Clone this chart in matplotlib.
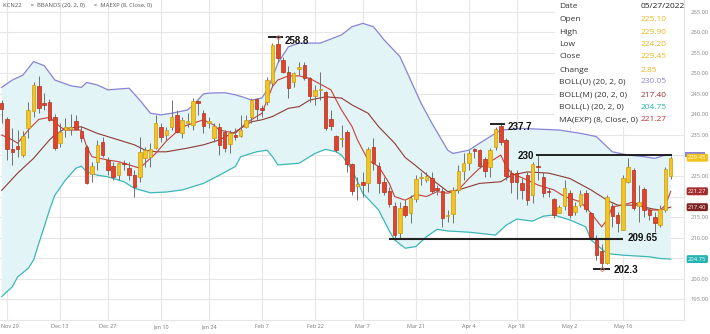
import numpy as np
import matplotlib.pyplot as plt
from matplotlib.patches import Rectangle
import matplotlib.transforms as mtransforms

plt.rcParams['font.family'] = ['Open Sans', 'DejaVu Sans']

# daily KCN22 candles, trading-day index -1 (Nov 26) .. 125 (May 27)
opens = [242.9, 238.8, 231.7, 232.3, 230.0, 236.6, 240.9, 246.9, 242.9, 243.1,
         239.5, 233.0, 236.2, 236.4, 238.5, 236.0, 232.0, 225.5, 228.5, 233.4,
         228.9, 227.4, 225.2, 228.1, 226.9, 225.2, 224.8, 229.3, 229.7, 231.8,
         237.0, 235.0, 236.9, 239.9, 235.4, 237.9, 237.4, 243.3, 240.4, 237.9,
         234.2, 237.0, 235.7, 232.8, 235.0, 234.8, 237.0, 239.5, 243.7, 241.5,
         243.1, 247.6, 257.2, 253.3, 250.4, 247.8, 251.1, 252.1, 248.8, 244.4,
         245.9, 245.5, 239.0, 234.8, 234.0, 235.8, 227.9, 222.6, 223.5, 223.2,
         232.0, 227.4, 223.6, 221.4, 217.7, 211.0, 217.8, 215.9, 219.3, 224.4,
         224.0, 224.6, 222.1, 221.4, 215.3, 215.7, 221.6, 226.2, 228.1, 231.4,
         231.3, 229.1, 227.3, 232.1, 237.2, 233.8, 225.8, 225.7, 223.2, 225.2,
         220.4, 227.5, 224.8, 221.3, 219.3, 216.0, 217.7, 220.8, 216.3, 217.9,
         220.9, 216.0, 209.8, 206.8, 203.9, 217.7, 215.5, 211.8, 223.6, 226.5,
         217.7, 221.8, 216.7, 215.1, 213.0, 216.7, 225.10]
highs = [243.5, 239.5, 236.7, 236.2, 236.0, 243.1, 247.8, 249.4, 245.2, 243.7,
         240.0, 237.9, 239.1, 240.1, 239.9, 237.2, 232.5, 228.5, 233.8, 234.6,
         229.7, 228.5, 228.5, 228.9, 228.5, 226.5, 234.6, 232.1, 233.0, 239.9,
         237.9, 237.0, 243.5, 241.1, 239.5, 240.3, 243.9, 243.5, 241.1, 239.5,
         237.9, 237.9, 236.2, 236.2, 236.6, 239.9, 239.9, 243.9, 243.9, 242.3,
         249.2, 257.4, 258.8, 254.1, 251.7, 250.4, 252.9, 252.9, 249.2, 247.2,
         250.4, 245.6, 241.1, 235.0, 237.4, 236.2, 228.1, 224.8, 226.0, 232.1,
         234.2, 228.5, 224.8, 222.4, 218.7, 218.7, 219.1, 220.4, 225.2, 226.0,
         226.0, 226.0, 222.8, 222.0, 216.7, 222.4, 227.7, 230.5, 231.3, 231.8,
         231.5, 229.7, 231.8, 237.0, 237.7, 234.2, 226.5, 226.5, 224.5, 226.0,
         228.5, 230.0, 226.0, 222.0, 219.6, 217.9, 224.0, 221.6, 218.7, 221.6,
         221.6, 216.3, 210.6, 208.5, 220.4, 218.5, 216.3, 225.2, 229.3, 226.9,
         222.8, 222.4, 217.5, 216.3, 217.9, 227.3, 229.90]
lows = [237.9, 228.9, 227.7, 229.7, 229.7, 234.2, 239.5, 240.3, 241.1, 238.3,
        231.4, 232.1, 234.6, 235.0, 236.2, 233.4, 223.0, 223.6, 226.5, 229.7,
        225.2, 224.0, 224.0, 226.5, 224.0, 220.0, 223.5, 227.3, 227.3, 231.5,
        233.4, 233.8, 236.2, 235.4, 234.2, 237.0, 236.2, 239.9, 235.4, 236.6,
        233.4, 230.1, 230.9, 230.5, 233.8, 234.6, 236.6, 237.9, 238.7, 239.5,
        242.3, 246.8, 252.9, 250.0, 243.9, 246.8, 249.5, 248.4, 243.0, 242.3,
        243.5, 236.2, 236.2, 230.9, 232.1, 226.0, 220.4, 219.1, 220.0, 221.2,
        226.5, 220.8, 220.4, 217.5, 209.65, 210.0, 215.1, 213.5, 218.7, 222.8,
        223.6, 220.8, 220.4, 212.6, 213.9, 213.5, 220.8, 224.0, 226.5, 229.3,
        226.9, 224.8, 224.8, 231.3, 232.5, 224.0, 220.8, 219.5, 219.5, 218.0,
        218.5, 224.0, 220.0, 220.0, 214.7, 215.9, 216.7, 214.7, 215.5, 217.5,
        216.3, 210.0, 204.5, 202.3, 203.5, 212.6, 211.4, 211.8, 223.2, 216.7,
        213.9, 215.1, 214.3, 211.4, 212.6, 216.3, 224.20]
closes = [241.3, 231.5, 230.9, 231.7, 234.8, 241.0, 247.2, 241.5, 242.4, 238.7,
          231.8, 235.8, 237.0, 237.0, 236.5, 234.2, 223.4, 227.4, 232.5, 230.1,
          226.5, 224.8, 228.1, 227.9, 225.2, 222.4, 230.9, 231.3, 231.7, 237.9,
          234.6, 236.2, 239.5, 235.8, 238.7, 238.5, 243.3, 242.7, 237.2, 238.5,
          237.2, 232.6, 231.9, 235.4, 234.4, 236.2, 238.7, 243.5, 241.3, 241.1,
          248.4, 256.9, 253.7, 250.4, 246.4, 250.0, 251.5, 249.0, 244.6, 246.0,
          246.3, 236.7, 237.2, 231.3, 234.3, 227.9, 221.4, 223.0, 222.8, 231.5,
          228.2, 223.2, 221.2, 218.2, 210.6, 217.1, 215.6, 219.6, 224.3, 224.7,
          225.0, 221.4, 221.6, 214.7, 215.6, 221.6, 226.2, 228.2, 230.5, 231.2,
          227.4, 226.2, 231.3, 236.4, 233.4, 225.0, 223.6, 223.6, 221.6, 219.1,
          227.9, 227.1, 220.8, 221.1, 215.5, 217.4, 222.0, 215.5, 217.7, 220.5,
          216.9, 210.2, 205.7, 203.7, 219.8, 215.2, 213.6, 224.6, 227.1, 217.1,
          218.7, 216.7, 215.5, 213.5, 216.9, 226.6, 229.45]

# Bollinger (20, 2) and EMA(8) lines, sampled by trading-day index
upper_idx = [-1, 1, 3, 5, 7, 9, 12, 14, 15, 17, 19, 23, 25, 27, 29, 31, 34, 35, 37, 38,
             41, 43, 45, 46, 48, 49, 50, 51, 53, 55, 59, 63, 65, 67, 69, 71, 74, 76, 78, 80,
             83, 84, 87, 89, 91, 93, 97, 104, 108, 111, 114, 117, 120, 122, 124, 125]
upper_val = [246.6, 248.4, 249.6, 252.9, 251.9, 248.4, 247.0, 246.6, 247.8, 247.2,
             246.0, 246.4, 243.5, 240.3, 239.9, 240.3, 241.1, 242.2, 245.0, 245.2,
             245.3, 244.8, 244.0, 243.5, 244.0, 246.0, 249.0, 252.5, 256.5, 257.4,
             257.4, 259.4, 261.4, 262.2, 261.4, 258.2, 254.1, 248.4, 242.7, 237.9,
             231.3, 230.5, 231.3, 233.0, 234.6, 236.2, 236.6, 236.2, 235.4, 234.6,
             230.9, 230.1, 229.7, 229.3, 230.1, 230.05]
lower_idx = [-1, 1, 2, 4, 5, 6, 7, 8, 9, 11, 13, 14, 15, 17, 19, 22, 24, 27, 30, 33,
             37, 40, 43, 44, 47, 49, 50, 51, 55, 56, 58, 60, 62, 63, 65, 67, 70, 72, 73, 75,
             77, 79, 81, 83, 87, 92, 94, 96, 99, 101, 103, 106, 109, 110, 113, 116, 121, 123, 125]
lower_val = [195.6, 198.0, 200.4, 202.5, 204.5, 208.6, 212.6, 216.7, 220.3, 224.0,
             226.9, 227.4, 226.0, 225.2, 224.8, 223.6, 222.0, 220.9, 221.1, 221.6,
             223.2, 225.2, 227.3, 229.7, 230.9, 231.3, 229.7, 227.7, 228.1, 228.9,
             230.5, 231.5, 230.9, 230.1, 226.5, 220.8, 216.7, 211.6, 209.4, 207.4,
             207.8, 210.2, 212.0, 211.6, 211.3, 210.6, 213.0, 214.5, 214.0, 215.2,
             215.5, 214.3, 212.6, 209.4, 206.1, 205.7, 205.3, 204.9, 204.75]
mid_idx = [-1, 2, 5, 8, 9, 11, 14, 17, 21, 24, 26, 28, 30, 34, 37, 40, 43, 46, 48, 50,
           53, 55, 57, 60, 63, 65, 68, 70, 73, 75, 77, 81, 83, 85, 89, 93, 95, 98, 102, 106,
           110, 113, 115, 119, 121, 123, 125]
mid_val = [221.5, 225.7, 229.3, 233.8, 235.0, 236.6, 237.0, 235.4, 233.8, 232.6,
           231.3, 230.9, 230.9, 231.8, 232.6, 233.8, 235.8, 238.2, 238.7, 239.5,
           241.5, 241.9, 243.5, 244.3, 244.0, 242.3, 240.3, 237.0, 233.0, 229.5,
           227.5, 223.2, 221.2, 221.6, 223.2, 223.6, 225.2, 226.0, 225.7, 224.4,
           221.6, 219.1, 217.9, 217.9, 217.1, 216.7, 217.4]
ema_idx = [-1, 1, 2, 4, 6, 8, 10, 11, 14, 15, 16, 19, 21, 24, 25, 28, 30, 33, 37, 39,
           40, 43, 45, 48, 49, 50, 51, 53, 55, 57, 59, 61, 62, 63, 65, 66, 68, 70, 72, 73,
           75, 77, 79, 81, 83, 85, 87, 89, 91, 93, 94, 95, 98, 100, 103, 105, 108, 110, 112, 113,
           114, 116, 118, 119, 121, 123, 124, 125]
ema_val = [235.0, 233.8, 233.0, 236.2, 238.8, 239.3, 237.0, 236.2, 236.2, 232.1,
           229.7, 228.9, 228.5, 227.3, 226.9, 230.5, 233.5, 237.0, 238.7, 237.4,
           236.2, 235.4, 237.9, 240.3, 243.5, 246.8, 248.4, 249.4, 249.4, 248.8,
           247.4, 246.0, 243.5, 241.1, 237.0, 233.8, 228.9, 227.3, 223.2, 220.0,
           219.1, 220.5, 220.0, 221.2, 220.8, 221.6, 224.4, 226.9, 228.5, 230.1,
           227.3, 225.7, 224.0, 222.8, 221.6, 220.0, 218.7, 215.9, 212.6, 214.3,
           217.5, 217.9, 218.7, 217.9, 216.7, 216.7, 217.9, 221.27]

tick_idx = [0, 10, 19, 29, 38, 48, 58, 67, 77, 87, 96, 106, 116]
tick_lbl = ['Nov 29', 'Dec 13', 'Dec 27', 'Jan 10', 'Jan 24', 'Feb 7', 'Feb 22',
            'Mar 7', 'Mar 21', 'Apr 4', 'Apr 18', 'May 2', 'May 16']
price_grid = list(range(195, 266, 5))
price_lbl = [p for p in price_grid if p not in (205, 220, 230)]  # these sit under the value tags

info_rows = ['Date', 'Open', 'High', 'Low', 'Close', 'Change',
             'BOLL(U) (20, 2, 0)', 'BOLL(M) (20, 2, 0)', 'BOLL(L) (20, 2, 0)', 'MA(EXP) (8, Close, 0)']
info_vals = ['05/27/2022', '225.10', '229.90', '224.20', '229.45', '2.85',
             '230.05', '217.40', '204.75', '221.27']

UP, UP_EDGE = '#f3c523', '#c99a12'
DN, DN_EDGE = '#e2432d', '#b0301c'
C_UPPER, C_MID, C_LOWER, C_EMA = '#8884d4', '#8e3a36', '#3cb6b8', '#c5403a'

fig = plt.figure(figsize=(7.1, 3.34), dpi=100)
ax = fig.add_axes([0, 14 / 334, 684 / 710, 320 / 334])

x = np.arange(-1, -1 + len(closes))
o, h, l, c = map(np.array, (opens, highs, lows, closes))

# band fill and lines
ax.fill(np.concatenate([upper_idx, lower_idx[::-1]]),
        np.concatenate([upper_val, lower_val[::-1]]),
        color='#e2f4f5', lw=0, zorder=1)
ax.plot(upper_idx, upper_val, color=C_UPPER, lw=0.9, zorder=2)
ax.plot(lower_idx, lower_val, color=C_LOWER, lw=0.9, zorder=2)
ax.plot(mid_idx, mid_val, color=C_MID, lw=0.8, zorder=2)
ax.plot(ema_idx, ema_val, color=C_EMA, lw=0.8, zorder=2)

# candles
up = c >= o
ax.vlines(x, l, h, color='#707070', lw=0.7, zorder=3)
body_lo = np.minimum(o, c)
body_h = np.maximum(np.abs(c - o), 0.3)
ax.bar(x[up], body_h[up], bottom=body_lo[up], width=0.66,
       color=UP, edgecolor=UP_EDGE, lw=0.5, zorder=4)
ax.bar(x[~up], body_h[~up], bottom=body_lo[~up], width=0.66,
       color=DN, edgecolor=DN_EDGE, lw=0.5, zorder=4)

# support / resistance notes
note_font = dict(family=['Liberation Sans', 'DejaVu Sans'], fontweight='bold',
                 fontsize=7, color='#111', va='center', zorder=6)
ax.hlines(258.8, 49.2, 52.0, color='#111', lw=1.3, zorder=5)
ax.text(52.3, 258.8 - 0.9, '258.8', ha='left', **note_font)
ax.hlines(237.7, 91.0, 93.8, color='#111', lw=1.3, zorder=5)
ax.text(94.3, 237.7 - 0.7, '237.7', ha='left', **note_font)
ax.hlines(230.0, 99.6, 125.3, color='#111', lw=1.3, zorder=5)
ax.text(99.2, 230.0 - 0.1, '230', ha='right', **note_font)
ax.hlines(209.65, 72.0, 116.0, color='#222', lw=1.5, zorder=5)
ax.text(116.8, 209.65 + 0.2, '209.65', ha='left', **note_font)
ax.hlines(202.3, 110.4, 113.6, color='#111', lw=1.3, zorder=5)
ax.text(114.3, 202.3 - 0.2, '202.3', ha='left', **note_font)
ax.plot([51], [258.8], 'o', ms=2.5, mfc='none', mec='#e07070', mew=0.6, zorder=6)
ax.plot([112], [202.3], 'o', ms=2.5, mfc='none', mec='#e07070', mew=0.6, zorder=6)

ax.set_xlim(-1.32, 127.5)
ax.set_ylim(189.9, 267.9)
ax.set_xticks(tick_idx)
ax.set_xticklabels(tick_lbl)
ax.yaxis.tick_right()
ax.set_yticks(price_grid)
ax.set_yticklabels([f'{p:.2f}' if p in price_lbl else '' for p in price_grid])
ax.tick_params(axis='x', length=0, labelsize=4.0, colors='#777', pad=3)
ax.tick_params(axis='y', length=0, labelsize=4.2, colors='#888', pad=5)
ax.grid(True, color='#e6e6e6', lw=0.8, zorder=0)
ax.set_axisbelow(True)
for side in ('top', 'left'):
    ax.spines[side].set_visible(False)
ax.spines['bottom'].set_color('#e6e6e6')
ax.spines['right'].set_color('#e2e2e2')

# first date label starts at the left edge
first = ax.get_xticklabels()[0]
first.set_horizontalalignment('left')
first.set_transform(first.get_transform() +
                    mtransforms.ScaledTranslation(-0.065, 0, fig.dpi_scale_trans))

# last-value tags on the price axis
tag_tr = mtransforms.blended_transform_factory(ax.transAxes, ax.transData)
ax.add_patch(Rectangle((1.002, 230.05 - 0.45), 0.028, 1.2, transform=tag_tr,
                       fc=C_UPPER, ec='none', clip_on=False, zorder=6))
for val, txt, col in [(229.45, '229.45', '#f2c21a'),
                      (221.27, '221.27', '#a42c2c'), (217.40, '217.40', '#7e2222'),
                      (204.75, '204.75', '#25b3b3')]:
    ax.text(1.006, val, txt, transform=tag_tr, fontsize=4.2, color='white',
            va='center', ha='left', clip_on=False, zorder=7,
            bbox=dict(boxstyle='round,pad=0.25', fc=col, ec='none'))

# series legend strip
ax.text(3 / 684, 1 - 6 / 320, 'KCN22      \u00d7  BBANDS (20, 2, 0)      \u00d7  MAEXP (8, Close, 0)',
        transform=ax.transAxes, fontsize=4.2, color='#555', va='center', ha='left', zorder=6)

# data window
ax.add_patch(Rectangle((555 / 684, 1 - 127 / 320), 129 / 684, 127 / 320,
                       transform=ax.transAxes, fc='white', ec='none', zorder=5))
val_colors = ['#222', '#e9b81c', '#e9b81c', '#e9b81c', '#e9b81c', '#e9b81c',
              C_UPPER, '#a03330', '#2ab3b0', '#b8343a']
row_y = [6.7, 19.3, 32.3, 44, 56.7, 70, 81.7, 95, 107.3, 120]
for name, val, col, yy in zip(info_rows, info_vals, val_colors, row_y):
    fig.text(559 / 710, 1 - yy / 334, name, fontsize=6.0, color='#333', va='center', ha='left')
    fig.text(641 / 710, 1 - yy / 334, val, fontsize=6.0, color=col, va='center', ha='left')

fig.savefig('out.png', dpi=100, facecolor='white')
